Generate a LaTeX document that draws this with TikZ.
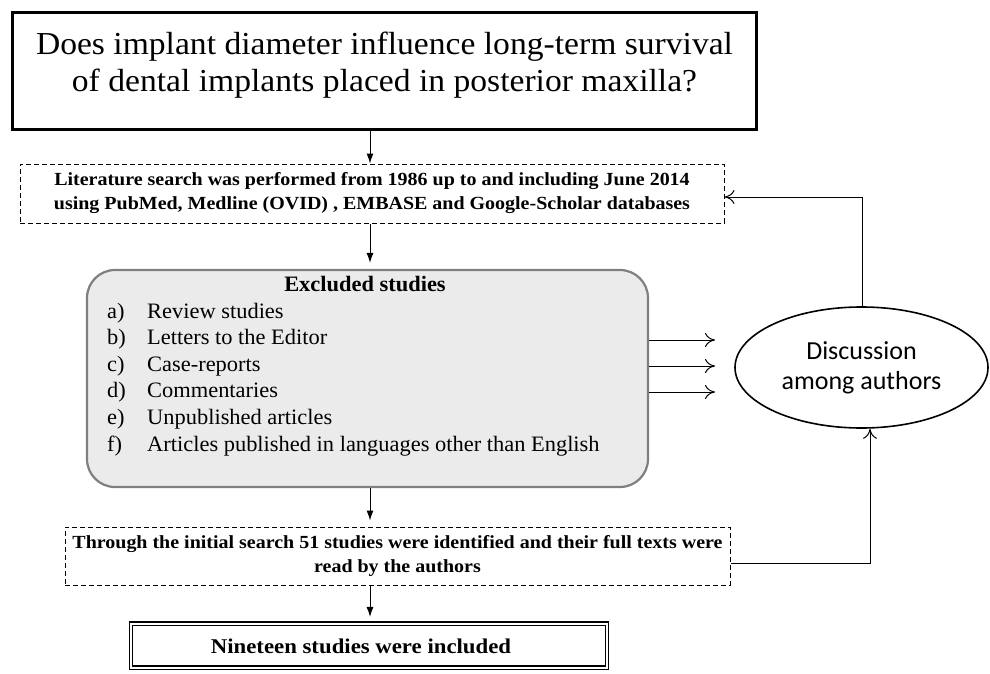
\documentclass[tikz,border=0pt]{standalone}
\usepackage{fontspec}
\setmainfont{Liberation Serif}
\newfontfamily\tserif[FakeStretch=1.05]{Liberation Serif}
\newfontfamily\wserif[FakeStretch=1.08]{Liberation Serif}
\newfontfamily\lserif[FakeStretch=1.02]{Liberation Serif}
\newfontfamily\nserif[FakeStretch=1.085]{Liberation Serif}
\newfontfamily\carl{Carlito}
\usetikzlibrary{arrows.meta,shapes.geometric}
\definecolor{boxgray}{HTML}{EBEBEB}
\definecolor{edgegray}{HTML}{7F7F7F}
\tikzset{
  downarr/.style={-{Latex[length=10pt,width=7pt]},line width=1pt},
  sidearr/.style={-{To[length=10pt,width=14pt]},line width=1pt},
  dashbox/.style={draw,dashed,line width=1pt,dash pattern=on 5pt off 3pt,align=center,inner sep=0pt},
  listtext/.style={font=\lserif\fontsize{22}{26}\selectfont,inner sep=0pt,anchor=base west},
}
\begin{document}
\begin{tikzpicture}[x=1pt,y=-1pt]
\useasboundingbox (0,0) rectangle (990,674);
% title
\node[draw,line width=2.8pt,minimum width=744pt,minimum height=117pt,inner sep=0pt] (q) at (384.5,71) {};
\node[font=\tserif\fontsize{32}{37}\selectfont,align=center,inner sep=0pt] (qt) at (384.5,65)
  {Does implant diameter influence long-term survival\\of dental implants placed in posterior maxilla?};
% literature
\node[dashbox,minimum width=704pt,minimum height=59pt,font=\wserif\bfseries\fontsize{18.5}{24}\selectfont] (lit) at (372,193.5)
  {Literature search was performed from 1986 up to and including June 2014\\using PubMed, Medline (OVID) , EMBASE and Google-Scholar databases};
% excluded
\node[draw=edgegray,fill=boxgray,line width=2.2pt,rounded corners=28pt,minimum width=561pt,minimum height=217pt,inner sep=0pt] (ex) at (367.5,378.5) {};
\node[font=\lserif\bfseries\fontsize{22}{26}\selectfont,inner sep=0pt,anchor=base] (exh) at (365,291) {Excluded studies};
\foreach \lab/\txt [count=\i] in {a)/Review studies, b)/Letters to the Editor, c)/Case-reports, d)/Commentaries, e)/Unpublished articles, f)/Articles published in languages other than English}{
  \node[listtext] (exl\i) at (107,{318+26.6*(\i-1)}) {\lab};
  \node[listtext] (ext\i) at (147,{318+26.6*(\i-1)}) {\txt};
}
% discussion
\node[draw,ellipse,line width=1.6pt,minimum width=253pt,minimum height=121pt,inner sep=0pt,align=center,font=\carl\fontsize{26}{30}\selectfont] (dis) at (861.5,367.5)
  {Discussion\\among authors};
% through
\node[dashbox,minimum width=665pt,minimum height=58pt,font=\wserif\bfseries\fontsize{18.5}{24}\selectfont] (thr) at (397.5,556)
  {Through the initial search 51 studies were identified and their full texts were\\read by the authors};
% nineteen
\node[draw,double,double distance=2pt,line width=1.1pt,minimum width=476pt,minimum height=44pt,inner sep=0pt] (nin) at (369,645.5) {};
\node[font=\nserif\bfseries\fontsize{21}{24}\selectfont,inner sep=0pt] (nint) at (361,646) {Nineteen studies were included};
% coordinates
\coordinate (c1) at (862,197);
\coordinate (c2) at (870,563);
% connectors
\draw[downarr] (q.south -| 370,0) -- (lit.north -| 370,0);
\draw[downarr] (lit.south -| 370,0) -- ([yshift=6pt]ex.north -| 370,0);
\draw[downarr] (ex.south -| 370,0) -- ([yshift=6pt]thr.north -| 370,0);
\draw[downarr] (thr.south -| 370,0) -- ([yshift=6pt]nin.north -| 370,0);
\draw[sidearr] (ex.east |- 0,340) -- (715,340);
\draw[sidearr] (ex.east |- 0,366) -- (715,366);
\draw[sidearr] (ex.east |- 0,392) -- (715,392);
\draw[sidearr] (dis.north -| c1) -- (c1) -- (lit.east |- c1);
\draw[sidearr] (thr.east |- c2) -- (c2) -- (dis.south -| c2);
\end{tikzpicture}
\end{document}
